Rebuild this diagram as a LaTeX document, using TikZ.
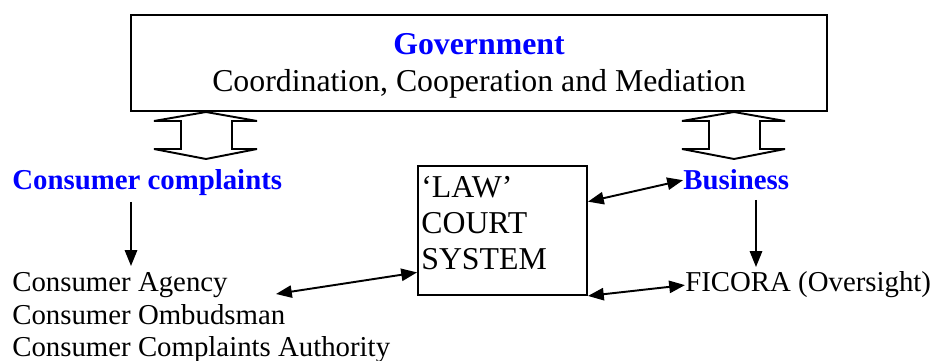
\documentclass[tikz,border=0pt]{standalone}
\usepackage{fontspec}
\setmainfont{Liberation Serif}
\usetikzlibrary{arrows.meta,positioning,calc}

\tikzset{
  small/.style={font=\fontsize{16.4}{18.5}\selectfont, inner sep=0, anchor=base west},
  heading/.style={small, font=\bfseries\fontsize{16.4}{18.5}\selectfont, text=blue},
  big/.style={font=\fontsize{18.1}{20.7}\selectfont, inner sep=0},
  pointer/.style={-{Triangle[length=9pt,width=7pt]}, line width=1.1pt},
  both/.style={{Triangle[length=9pt,width=7pt]}-{Triangle[length=9pt,width=7pt]}, line width=1.1pt},
  bigarrow/.style={draw, fill=white, line width=1.1pt},
  frame/.style={draw, line width=1.1pt, inner sep=0}
}

\begin{document}
\begin{tikzpicture}[x=0.02cm, y=-0.02cm]
  \useasboundingbox (0,0) rectangle (934,361);
  % top box
  \node[frame, minimum width=13.92cm, minimum height=1.92cm] (gov) at (479,63) {};
  \node[big, anchor=base, font=\bfseries\fontsize{18.1}{20.7}\selectfont, text=blue] (govtitle) at (479,55) {Government};
  \node[big, anchor=base] (govtext) at (479,92) {Coordination, Cooperation and Mediation};
  % up/down block arrows
  \foreach \cx in {206,734}
    \draw[bigarrow, shift={(\cx,0)}] (0,112) -- (51,121) -- (26,121) -- (26,149) -- (51,149)
      -- (0,159) -- (-52,149) -- (-25,149) -- (-25,121) -- (-52,121) -- cycle;
  % labels (multi-line nodes sit on their last baseline)
  \node[heading] (complaints) at (12,190) {Consumer complaints};
  \node[heading] (business) at (683,190) {Business};
  \node[small, align=left] (agencies) at (12,357) {Consumer Agency\\Consumer Ombudsman\\Consumer Complaints Authority};
  \node[small] (ficora) at (685,292) {FICORA (Oversight)};
  % court
  \node[frame, minimum width=3.38cm, minimum height=2.58cm] (court) at (502.5,230.5) {};
  \node[big, anchor=base west, align=left] (courttext) at (421,270) {‘LAW’\\COURT\\SYSTEM};
  % connectors
  \coordinate (ccdown) at (131,202);
  \coordinate (agup) at (131,266);
  \coordinate (bsdown) at (756,200);
  \coordinate (fiup) at (756,267);
  \coordinate (agright) at (276,294);
  \draw[pointer] (ccdown) -- (agup);
  \draw[pointer] (bsdown) -- (fiup);
  \draw[both] (agright) -- ($(court.north west)!0.82!(court.south west)$);
  \draw[both] ($(court.north east)!0.28!(court.south east)$) -- (business.west);
  \draw[both] (court.south east) -- (ficora.west);
\end{tikzpicture}
\end{document}
